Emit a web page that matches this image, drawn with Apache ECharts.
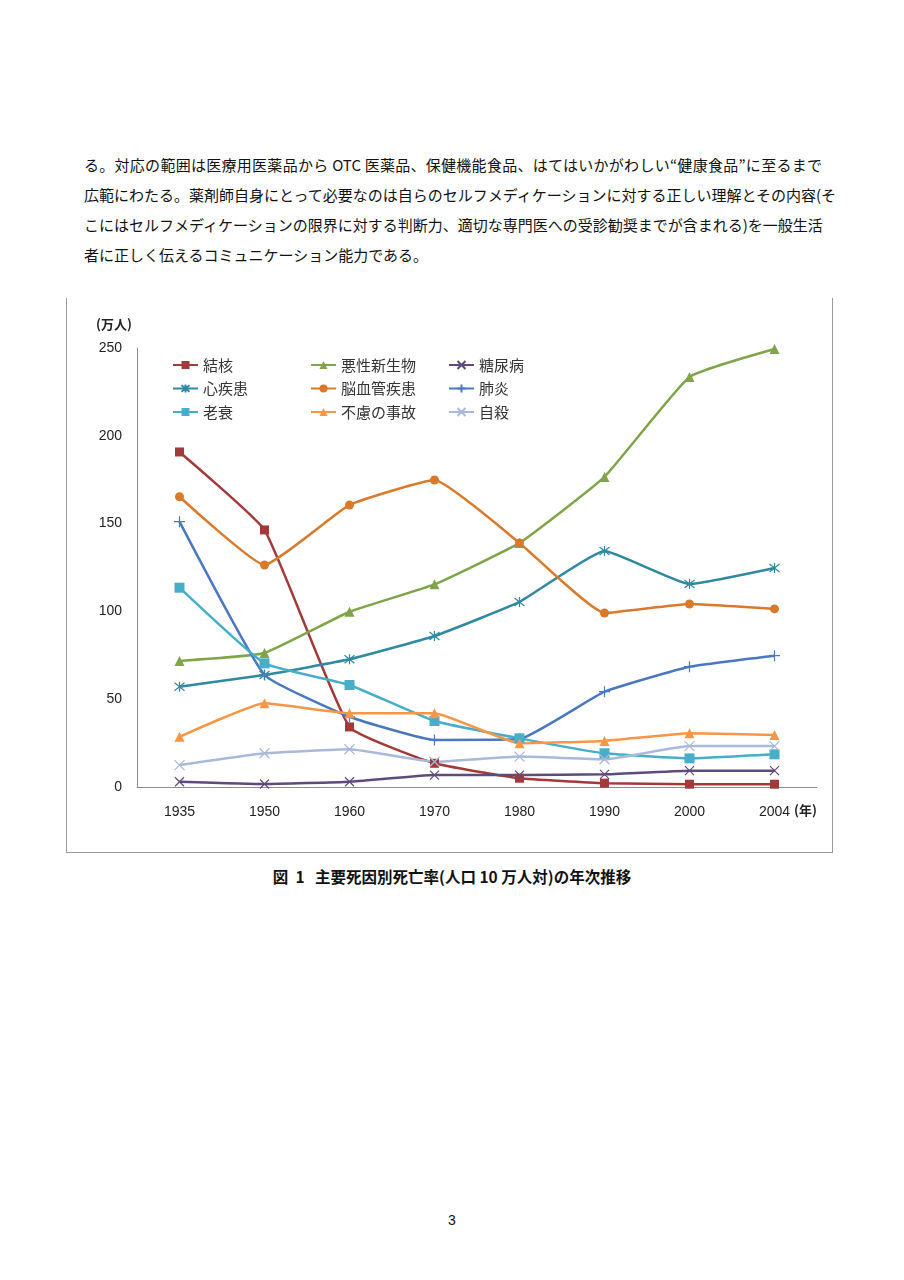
<!DOCTYPE html>
<html>
<head>
<meta charset="utf-8">
<title>主要死因別死亡率の年次推移</title>
<script src="https://cdn.jsdelivr.net/npm/echarts@6/dist/echarts.min.js"></script>
<style>
  html, body { margin: 0; padding: 0; background: #fff; }
  body { width: 904px; height: 1280px; position: relative; font-family: "Noto Sans CJK JP", "Liberation Sans", sans-serif; color: #111; }
  .para { position: absolute; left: 84px; width: 738px; top: 150px; font-size: 15px; line-height: 30px; }
  .para div { text-align: justify; text-align-last: justify; white-space: nowrap; }
  .para div.last { text-align-last: left; }
  #frame { position: absolute; left: 66px; top: 298px; width: 765px; height: 554px; border: 1px solid #9a9a9a; border-top: none; }
  #main { width: 765px; height: 554px; }
  .caption { position: absolute; top: 865px; left: 0; width: 904px; text-align: center; font-size: 15.5px; font-weight: bold; }
  .pageno { position: absolute; top: 1212px; left: 0; width: 904px; text-align: center; font-size: 14px; font-family: "Liberation Sans", sans-serif; }
</style>
</head>
<body>
<div class="para">
  <div>る。対応の範囲は医療用医薬品から OTC 医薬品、保健機能食品、はてはいかがわしい“健康食品”に至るまで</div>
  <div>広範にわたる。薬剤師自身にとって必要なのは自らのセルフメディケーションに対する正しい理解とその内容(そ</div>
  <div>こにはセルフメディケーションの限界に対する判断力、適切な専門医への受診勧奨までが含まれる)を一般生活</div>
  <div class="last">者に正しく伝えるコミュニケーション能力である。</div>
</div>
<div id="frame"><div id="main"></div></div>
<div class="caption">図 &nbsp;1&nbsp;&nbsp; 主要死因別死亡率(人口 10 万人対)の年次推移</div>
<div class="pageno">3</div>
<script>
// years on the x axis
var years = ['1935', '1950', '1960', '1970', '1980', '1990', '2000', '2004'];

// death rates
var kekkaku = [190.8, 146.4, 34.2, 13.5, 5.0, 2.2, 1.6, 1.6];
var akusei = [71.8, 76.3, 99.8, 115.4, 139.0, 176.6, 233.5, 249.4];
var tonyo = [3.0, 1.7, 3.0, 6.8, 6.8, 7.2, 9.3, 9.3];
var shinshikkan = [57.1, 63.8, 72.7, 86.0, 105.4, 134.4, 115.6, 124.7];
var noukekkan = [165.3, 126.4, 160.6, 174.8, 139.0, 99.1, 104.2, 101.4];
var haien = [151.1, 63.8, 40.0, 26.8, 27.3, 54.3, 68.5, 74.8];
var rosui = [113.5, 70.4, 58.1, 37.6, 27.7, 19.2, 16.3, 18.6];
var jiko = [28.6, 47.7, 42.0, 42.0, 24.9, 26.2, 30.6, 29.6];
var jisatsu = [12.5, 19.2, 21.5, 14.4, 17.3, 15.8, 23.3, 23.3];

var yTicks = [0, 50, 100, 150, 200, 250];

var X_MARK = 'path://M0,0L10,10M10,0L0,10';
var STAR_MARK = 'path://M5,0L5,10M1,1L9,9M9,1L1,9';
var PLUS_MARK = 'path://M5,0L5,10M0,5L10,5';

function line(name, data, color, symbol, size, stroked) {
    var s = {
        name: name,
        type: 'line',
        data: data,
        smooth: 0.12,
        symbol: symbol,
        symbolSize: size,
        showAllSymbol: true,
        lineStyle: { color: color, width: 2.5 },
        itemStyle: { color: color }
    };
    if (stroked) {
        s.itemStyle = { color: color, borderColor: color, borderWidth: 1.2 };
    }
    return s;
}

var chartDom = document.getElementById('main');
var myChart = echarts.init(chartDom);

var legendBase = {
    orient: 'vertical',
    top: 54,
    itemWidth: 25,
    itemHeight: 10,
    itemGap: 7.5,
    textStyle: { fontSize: 15, lineHeight: 16, color: '#333', fontFamily: 'Noto Sans CJK JP' }
};

option = {
    animation: false,
    textStyle: { fontFamily: 'Liberation Sans' },
    grid: { left: 70, right: 15, top: 50, bottom: 65 },
    legend: [
        Object.assign({ left: 100, data: ['結核', '心疾患', '老衰'] }, legendBase),
        Object.assign({ left: 238, data: ['悪性新生物', '脳血管疾患', '不慮の事故'] }, legendBase),
        Object.assign({ left: 376, data: ['糖尿病', '肺炎', '自殺'] }, legendBase)
    ],
    xAxis: {
        type: 'category',
        data: years,
        boundaryGap: true,
        axisLine: { lineStyle: { color: '#8c8c8c', width: 1 } },
        axisTick: { show: false },
        axisLabel: { color: '#222', fontSize: 14, margin: 18 }
    },
    yAxis: {
        type: 'value',
        min: yTicks[0],
        max: yTicks[yTicks.length - 1],
        interval: 50,
        splitLine: { show: false },
        axisLine: { show: true, lineStyle: { color: '#8c8c8c', width: 1 } },
        axisTick: { show: false },
        axisLabel: { color: '#222', fontSize: 14, margin: 15 }
    },
    graphic: [
        { type: 'text', left: 29, top: 20, style: { text: '(万人)', fontSize: 13, fontWeight: 'bold', fill: '#222', fontFamily: 'Noto Sans CJK JP' } },
        { type: 'text', left: 727, top: 506, style: { text: '(年)', fontSize: 13, fontWeight: 'bold', fill: '#222', fontFamily: 'Noto Sans CJK JP' } }
    ],
    series: [
        line('結核', kekkaku, '#a33a3a', 'rect', 9, false),
        line('悪性新生物', akusei, '#80a44a', 'triangle', 10, false),
        line('糖尿病', tonyo, '#5f4a7d', X_MARK, 9, true),
        line('心疾患', shinshikkan, '#2f89a0', STAR_MARK, 10, true),
        line('脳血管疾患', noukekkan, '#d97a2b', 'circle', 9, false),
        line('肺炎', haien, '#4a78bf', PLUS_MARK, 11, true),
        line('老衰', rosui, '#46aec9', 'rect', 10, false),
        line('不慮の事故', jiko, '#f79646', 'triangle', 10, false),
        line('自殺', jisatsu, '#a9b9d9', X_MARK, 10, true)
    ]
};

option && myChart.setOption(option);
</script>
</body>
</html>
